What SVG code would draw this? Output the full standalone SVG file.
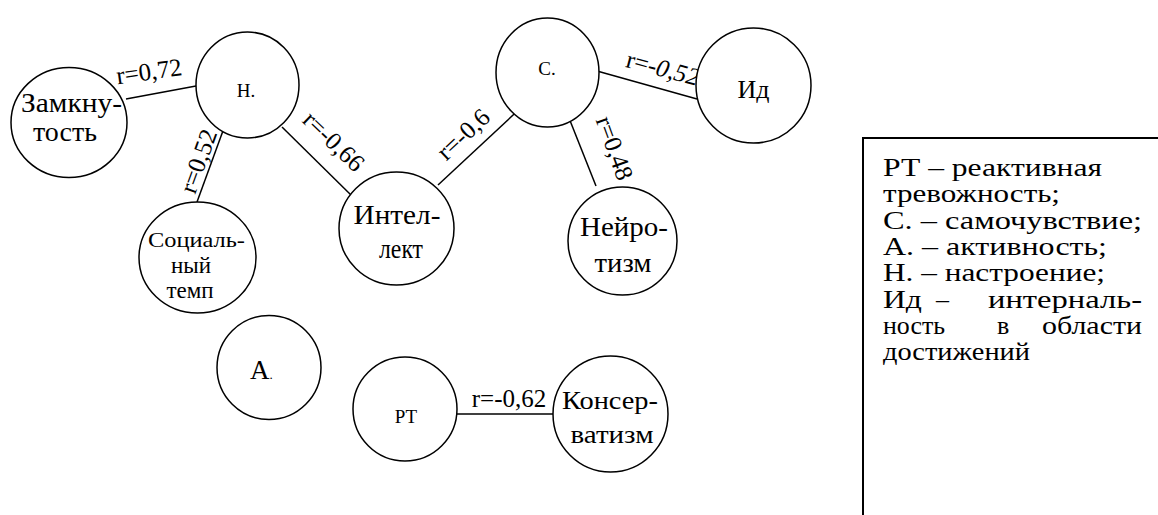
<svg xmlns="http://www.w3.org/2000/svg" width="1158" height="515" viewBox="0 0 1158 515">
<style>
.n{fill:#fff;stroke:#000;stroke-width:1.5}
.c line{stroke:#000;stroke-width:1.5}
text{fill:#000;font-family:"Liberation Serif","Liberation Sans",sans-serif}
.t{text-anchor:middle}
.lab{font-size:25px;text-anchor:middle}
.lg{font-size:26px}
</style>
<rect width="1158" height="515" fill="#fff"/>
<g id="connectors" class="c">
<line x1="126" y1="99" x2="196" y2="86"/>
<line x1="224" y1="128" x2="197" y2="202"/>
<line x1="282" y1="127" x2="353" y2="197"/>
<line x1="438" y1="185" x2="526" y2="103"/>
<line x1="567" y1="113" x2="596" y2="186"/>
<line x1="597" y1="71" x2="697" y2="99"/>
<line x1="453" y1="414" x2="553" y2="414"/>
<text class="lab" x="149" y="71" dy="0.35em" transform="rotate(-8 149 71)">r=0,72</text>
<text class="lab" x="198" y="161" dy="0.35em" transform="rotate(-70 198 161)">r=0,52</text>
<text class="lab" x="334" y="141" dy="0.35em" transform="rotate(44 334 141)">r=-0,66</text>
<text class="lab" x="463" y="134" dy="0.35em" transform="rotate(-43 463 134)">r=-0,6</text>
<text class="lab" x="615" y="148" dy="0.35em" transform="rotate(70 615 148)">r=0,48</text>
<text class="lab" x="663" y="68" dy="0.35em" transform="rotate(15 663 68)">r=<tspan font-style="italic">-0,52</tspan></text>
<text class="lab" x="509" y="407">r=-0,62</text>
</g>
<g id="zamknutost">
<ellipse class="n" cx="69" cy="122.5" rx="58" ry="55"/>
<text class="t" font-size="27"><tspan x="71.5" y="111.7" textLength="101" lengthAdjust="spacingAndGlyphs">Замкну-</tspan><tspan x="65" y="140.7" font-size="28">тость</tspan></text>
</g>
<g id="N">
<ellipse class="n" cx="247.5" cy="85" rx="51.5" ry="53"/>
<text class="t" font-size="19" x="246" y="97">Н.</text>
</g>
<g id="socialny_temp">
<ellipse class="n" cx="197.5" cy="257.5" rx="58.5" ry="55.5"/>
<text class="t" font-size="22"><tspan x="196.5" y="247" textLength="97" lengthAdjust="spacingAndGlyphs">Социаль-</tspan><tspan x="191" y="273" font-size="23">ный</tspan><tspan x="190" y="298" font-size="23">темп</tspan></text>
</g>
<g id="intellekt">
<ellipse class="n" cx="396.5" cy="228.5" rx="57.5" ry="56.5"/>
<text class="t" font-size="27"><tspan x="397" y="224" textLength="87" lengthAdjust="spacingAndGlyphs">Интел-</tspan><tspan x="401" y="258" textLength="44" lengthAdjust="spacingAndGlyphs">лект</tspan></text>
</g>
<g id="S">
<ellipse class="n" cx="547.5" cy="72.5" rx="51.5" ry="54.5"/>
<text class="t" font-size="19" x="547" y="75">С.</text>
</g>
<g id="neirotizm">
<ellipse class="n" cx="622.5" cy="241" rx="54.5" ry="54"/>
<text class="t" font-size="27"><tspan x="624" y="236" textLength="88" lengthAdjust="spacingAndGlyphs">Нейро-</tspan><tspan x="623" y="272" textLength="57" lengthAdjust="spacingAndGlyphs">тизм</tspan></text>
</g>
<g id="Id">
<ellipse class="n" cx="753.5" cy="85.5" rx="57.5" ry="57.5"/>
<text class="t" font-size="26" x="753.5" y="98">Ид</text>
</g>
<g id="A">
<ellipse class="n" cx="269" cy="367.5" rx="52" ry="52"/>
<text font-size="27" x="250" y="379">А<tspan font-size="13">.</tspan></text>
</g>
<g id="RT">
<ellipse class="n" cx="405" cy="409" rx="52" ry="52"/>
<text class="t" font-size="19" x="406" y="423">РТ</text>
</g>
<g id="konservatizm">
<ellipse class="n" cx="610.5" cy="414" rx="57.5" ry="58"/>
<text class="t" font-size="26"><tspan x="610" y="409" textLength="96" lengthAdjust="spacingAndGlyphs">Консер-</tspan><tspan x="612" y="443" textLength="83" lengthAdjust="spacingAndGlyphs">ватизм</tspan></text>
</g>
<g id="legend">
<path d="M863 515 V138 H1158" fill="none" stroke="#000" stroke-width="2"/>
<text class="lg"><tspan x="883" y="176" textLength="219" lengthAdjust="spacingAndGlyphs">РТ – реактивная</tspan><tspan x="883" y="202.3" textLength="177" lengthAdjust="spacingAndGlyphs">тревожность;</tspan><tspan x="883" y="228.6" textLength="259" lengthAdjust="spacingAndGlyphs">С. – самочувствие;</tspan><tspan x="883" y="254.9" textLength="224" lengthAdjust="spacingAndGlyphs">А. – активность;</tspan><tspan x="883" y="281.2" textLength="222" lengthAdjust="spacingAndGlyphs">Н. – настроение;</tspan><tspan x="883" y="307.5" textLength="39" lengthAdjust="spacingAndGlyphs">Ид</tspan><tspan x="936" y="307.5">–</tspan><tspan x="988" y="307.5" textLength="154" lengthAdjust="spacingAndGlyphs">интерналь-</tspan><tspan x="883" y="333.8" textLength="62" lengthAdjust="spacingAndGlyphs">ность</tspan><tspan x="997" y="333.8">в</tspan><tspan x="1042" y="333.8" textLength="100" lengthAdjust="spacingAndGlyphs">области</tspan><tspan x="883" y="360.1" textLength="147" lengthAdjust="spacingAndGlyphs">достижений</tspan></text>
</g>
</svg>
